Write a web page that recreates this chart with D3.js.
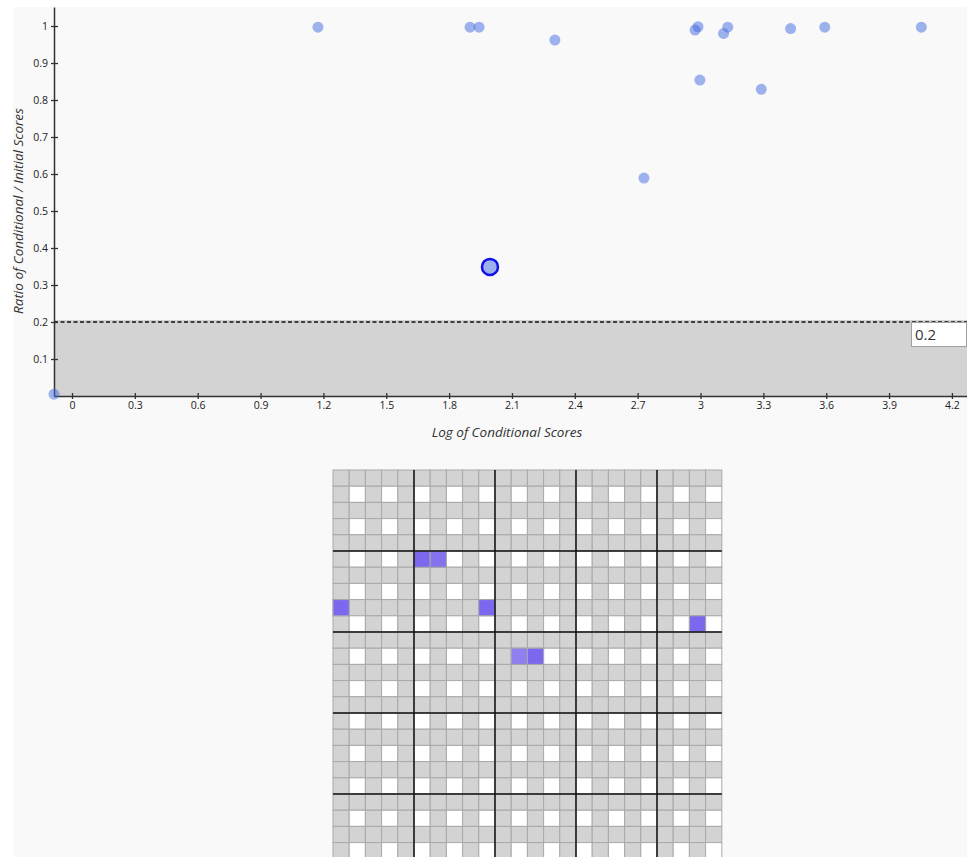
<!DOCTYPE html>
<html>
<head>
<meta charset="utf-8">
<script src="https://cdn.jsdelivr.net/npm/d3@7"></script>
<style>
  html, body { margin: 0; padding: 0; background: #ffffff; }
  svg { display: block; }
  .tick text { font-family: "Open Sans", "DejaVu Sans", sans-serif; font-size: 10.5px; fill: #222; }
</style>
</head>
<body>
<svg id="chart" width="967" height="857"></svg>
<script>
// ---- Scatter data ----
const logScores   = [-0.086, 1.174, 1.900, 1.943, 2.305, 2.730, 2.974, 2.988, 2.997, 3.110, 3.130, 3.290, 3.430, 3.593, 4.054];
const ratioScores = [0.005, 0.997, 0.997, 0.997, 0.962, 0.589, 0.989, 0.998, 0.854, 0.980, 0.997, 0.829, 0.993, 0.997, 0.997];
const selectedLog = [1.995];
const selectedRatio = [0.349];
const threshold = 0.2;
const xTicks = [0, 0.3, 0.6, 0.9, 1.2, 1.5, 1.8, 2.1, 2.4, 2.7, 3, 3.3, 3.6, 3.9, 4.2];
const yTicks = [0.1, 0.2, 0.3, 0.4, 0.5, 0.6, 0.7, 0.8, 0.9, 1];
const xLabel = "Log of Conditional Scores";
const yLabel = "Ratio of Conditional / Initial Scores";

// ---- Grid data ----
const gridRows = d3.range(24);
const gridCols = d3.range(24);
const highlightRows = [5, 5, 8, 8, 9, 11, 11];
const highlightCols = [5, 6, 0, 9, 22, 11, 12];
const highlightOpacity = [1, 0.9, 1, 1, 1, 0.85, 1];

const svg = d3.select("#chart");
svg.append("rect").attr("x", 0).attr("y", 0).attr("width", 967).attr("height", 857).attr("fill", "#ffffff");
svg.append("rect").attr("x", 13).attr("y", 7).attr("width", 954).attr("height", 850).attr("fill", "#f9f9f9");

// scales
const x = d3.scaleLinear().domain([-0.086, 4.272]).range([54, 967]);
const y = d3.scaleLinear().domain([0, 1.0514]).range([396, 7]);

// threshold shaded zone
svg.append("rect")
  .attr("x", x(-0.086)).attr("y", y(threshold) - 2)
  .attr("width", x(4.272) - x(-0.086)).attr("height", y(0) - y(threshold) + 2)
  .attr("fill", "#d3d3d3");
svg.append("line")
  .attr("x1", x(-0.086)).attr("x2", x(4.272))
  .attr("y1", y(threshold)).attr("y2", y(threshold))
  .attr("stroke", "#111").attr("stroke-width", 1.5).attr("stroke-dasharray", "4,2.5");

// axes
const xAxis = d3.axisBottom(x).tickValues(xTicks).tickFormat(d3.format("")).tickSize(3).tickSizeOuter(0);
const gx = svg.append("g").attr("transform", `translate(0,${y(0)})`).call(xAxis);
gx.select(".domain").attr("stroke", "#333").attr("stroke-width", 1.5);
gx.selectAll(".tick line").attr("y1", -3).attr("y2", 3).attr("stroke", "#333").attr("stroke-width", 1.3);
gx.selectAll(".tick text").attr("y", 6);

const yAxis = d3.axisLeft(y).tickValues(yTicks).tickFormat(d3.format("")).tickSize(3).tickSizeOuter(0);
const gy = svg.append("g").attr("transform", `translate(${x(-0.086)},0)`).call(yAxis);
gy.select(".domain").attr("stroke", "#333").attr("stroke-width", 1.5);
gy.selectAll(".tick line").attr("x1", -3).attr("x2", 4).attr("stroke", "#333").attr("stroke-width", 1.3);
gy.selectAll(".tick text").attr("x", -6);

// axis labels
svg.append("text")
  .attr("x", 507).attr("y", 437)
  .attr("text-anchor", "middle")
  .attr("font-family", "Open Sans, DejaVu Sans, sans-serif")
  .attr("font-style", "italic").attr("font-size", 13.5).attr("fill", "#333")
  .text(xLabel);
svg.append("text")
  .attr("transform", `translate(23,${y(0.5)}) rotate(-90)`)
  .attr("text-anchor", "middle")
  .attr("font-family", "Open Sans, DejaVu Sans, sans-serif")
  .attr("font-style", "italic").attr("font-size", 13.5).attr("fill", "#333")
  .text(yLabel);

// points
const pts = logScores.map((v, i) => ({ x: v, y: ratioScores[i] }));
svg.append("g").selectAll("circle").data(pts).join("circle")
  .attr("cx", d => x(d.x)).attr("cy", d => y(d.y)).attr("r", 5.5)
  .attr("fill", "#4169e1").attr("fill-opacity", 0.5);

const sel = selectedLog.map((v, i) => ({ x: v, y: selectedRatio[i] }));
svg.append("g").selectAll("circle").data(sel).join("circle")
  .attr("cx", d => x(d.x)).attr("cy", d => y(d.y)).attr("r", 8)
  .attr("fill", "#9db1ee").attr("stroke", "#1010e8").attr("stroke-width", 2.5);

// threshold value box
svg.append("rect").attr("x", 911.5).attr("y", y(threshold) + 0.5).attr("width", 55).attr("height", 24)
  .attr("fill", "#ffffff").attr("stroke", "#a0a0a0").attr("stroke-width", 1);
svg.append("text").attr("x", 915).attr("y", y(threshold) + 18)
  .attr("font-family", "Open Sans, DejaVu Sans, sans-serif").attr("font-size", 15).attr("fill", "#333")
  .text(String(threshold));

// ---- grid ----
const cellSize = 16.2;
const gxs = d3.scaleBand().domain(gridCols).range([333, 333 + cellSize * gridCols.length]).padding(0);
const gys = d3.scaleBand().domain(gridRows).range([470, 470 + cellSize * gridRows.length]).padding(0);
const cells = [];
gridRows.forEach(r => gridCols.forEach(c => cells.push({ r, c })));
const gGrid = svg.append("g");
gGrid.selectAll("rect.cell").data(cells).join("rect").attr("class", "cell")
  .attr("x", d => gxs(d.c)).attr("y", d => gys(d.r))
  .attr("width", gxs.bandwidth()).attr("height", gys.bandwidth())
  .attr("fill", d => (d.r % 2 === 1 && d.c % 2 === 1) ? "#ffffff" : "#d3d3d3")
  .attr("stroke", "#a9a9a9").attr("stroke-width", 1);

const hl = highlightRows.map((r, i) => ({ r, c: highlightCols[i], o: highlightOpacity[i] }));
gGrid.selectAll("rect.hl").data(hl).join("rect").attr("class", "hl")
  .attr("x", d => gxs(d.c)).attr("y", d => gys(d.r))
  .attr("width", gxs.bandwidth()).attr("height", gys.bandwidth())
  .attr("fill", "#7b68ee").attr("fill-opacity", d => d.o)
  .attr("stroke", "#a9a9a9").attr("stroke-width", 1);

// thick lines every 5 cells
const majors = gridCols.filter(c => c > 0 && c % 5 === 0);
const gridX0 = gxs.range()[0], gridX1 = gxs.range()[1];
const gridY0 = gys.range()[0], gridY1 = gys.range()[1];
gGrid.selectAll("line.vmaj").data(majors).join("line").attr("class", "vmaj")
  .attr("x1", d => gxs(d)).attr("x2", d => gxs(d))
  .attr("y1", gridY0).attr("y2", gridY1)
  .attr("stroke", "#111").attr("stroke-width", 1.5);
gGrid.selectAll("line.hmaj").data(gridRows.filter(r => r > 0 && r % 5 === 0)).join("line").attr("class", "hmaj")
  .attr("x1", gridX0).attr("x2", gridX1)
  .attr("y1", d => gys(d)).attr("y2", d => gys(d))
  .attr("stroke", "#111").attr("stroke-width", 1.5);
</script>
</body>
</html>
